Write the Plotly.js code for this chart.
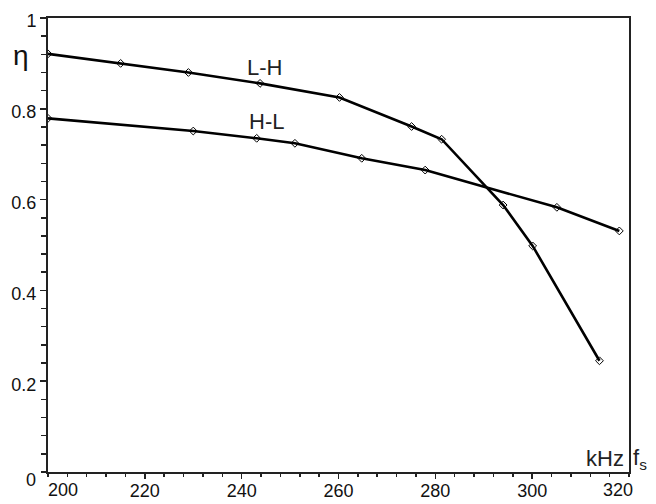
<!DOCTYPE html>
<html>
<head>
<meta charset="utf-8">
<script src="https://cdn.plot.ly/plotly-3.0.1.min.js"></script>
<style>html,body{margin:0;padding:0;background:#fff;}#chart{width:656px;height:504px;}</style>
</head>
<body>
<div id="chart"></div>
<script>
// Data
const lhFreq = [200, 215, 229, 243.8, 260.2, 275.1, 281.3, 294, 300.1, 313.9];
const lhEff  = [0.921, 0.900, 0.880, 0.856, 0.825, 0.761, 0.733, 0.588, 0.498, 0.245];
const hlFreq = [200, 230, 243.1, 251, 264.8, 277.9, 305.1, 318];
const hlEff  = [0.779, 0.751, 0.735, 0.724, 0.691, 0.665, 0.583, 0.531];
const seriesNames = ['L-H', 'H-L'];
const xTickVals = [200, 220, 240, 260, 280, 300, 320];
const xTickText = ['200', '220', '240', '260', '280', '300', '320'];
const yTickVals = [0, 0.2, 0.4, 0.6, 0.8, 1];
const yTickText = ['0', '0.2', '0.4', '0.6', '0.8', '1'];

const FONT = 'Liberation Sans, Arial, sans-serif';

const lineStyle = {color: '#000', width: 2.6};
const markerStyle = {symbol: 'diamond-open', size: 6, color: '#000', line: {width: 1, color: '#000'}};

const traces = [
  {x: lhFreq, y: lhEff, name: seriesNames[0], mode: 'lines+markers', line: lineStyle, marker: markerStyle},
  {x: hlFreq, y: hlEff, name: seriesNames[1], mode: 'lines+markers', line: lineStyle, marker: markerStyle}
];

// inner tick labels drawn by the axes; end labels drawn as annotations (offset like the original)
const xInnerVals = xTickVals.slice(1, -1);
const xInnerText = xTickText.slice(1, -1);
const yInnerVals = yTickVals.slice(1);
const yInnerText = yTickText.slice(1);

const annotations = [
  {xref: 'x', yref: 'y', x: 244.8, y: 0.89, text: seriesNames[0], showarrow: false, font: {family: FONT, size: 22, color: '#222'}},
  {xref: 'x', yref: 'y', x: 245.2, y: 0.773, text: seriesNames[1], showarrow: false, font: {family: FONT, size: 22, color: '#222'}},
  {xref: 'paper', yref: 'paper', x: -0.047, xanchor: 'center', y: 0.918, yanchor: 'middle', text: 'η', showarrow: false, font: {family: FONT, size: 28, color: '#111'}},
  {xref: 'x', yref: 'paper', x: xTickVals[0], xshift: 15, y: 0, yshift: -18, yanchor: 'middle', text: xTickText[0], showarrow: false, font: {family: FONT, size: 18, color: '#111'}},
  {xref: 'x', yref: 'paper', x: xTickVals[xTickVals.length - 1], xshift: -11, y: 0, yshift: -18, yanchor: 'middle', text: xTickText[xTickText.length - 1], showarrow: false, font: {family: FONT, size: 18, color: '#111'}},
  {xref: 'paper', yref: 'y', x: 0, xshift: -10, xanchor: 'right', y: yTickVals[0], yshift: -8, yanchor: 'middle', text: yTickText[0], showarrow: false, font: {family: FONT, size: 18, color: '#111'}},
  {xref: 'paper', yref: 'paper', x: 0.995, xanchor: 'right', y: 0.029, yanchor: 'middle', text: 'kHz', showarrow: false, font: {family: FONT, size: 22, color: '#222'}},
  {xref: 'paper', yref: 'paper', x: 1.003, xanchor: 'left', y: 0.029, yanchor: 'middle', text: 'f<sub>s</sub>', showarrow: false, font: {family: FONT, size: 22, color: '#222'}}
];

const layout = {
  width: 656, height: 504,
  margin: {l: 48, r: 27, t: 18, b: 32, pad: 0},
  paper_bgcolor: '#fff', plot_bgcolor: '#fff',
  showlegend: false,
  font: {family: FONT, size: 18, color: '#111'},
  xaxis: {
    range: [200, 320], showgrid: false, zeroline: false,
    showline: true, linecolor: '#222', linewidth: 2, mirror: true,
    ticks: 'outside', ticklen: 5, tickwidth: 1.5, tickcolor: '#222',
    tickvals: xInnerVals, ticktext: xInnerText, ticklabelstandoff: -4,
    minor: {dtick: 4, ticks: 'outside', ticklen: 3, tickwidth: 1.5, tickcolor: '#222'},
    tickfont: {family: FONT, size: 18, color: '#111'}
  },
  yaxis: {
    range: [0, 1], showgrid: false, zeroline: false,
    showline: true, linecolor: '#222', linewidth: 2, mirror: true,
    ticks: 'outside', ticklen: 6, tickwidth: 1.5, tickcolor: '#222',
    tickvals: yInnerVals, ticktext: yInnerText, ticklabelshift: 3,
    minor: {dtick: 0.04, ticks: 'outside', ticklen: 5, tickwidth: 1.5, tickcolor: '#222'},
    tickfont: {family: FONT, size: 18, color: '#111'}
  },
  annotations: annotations
};

Plotly.newPlot('chart', traces, layout, {displayModeBar: false, staticPlot: true});
</script>
</body>
</html>
